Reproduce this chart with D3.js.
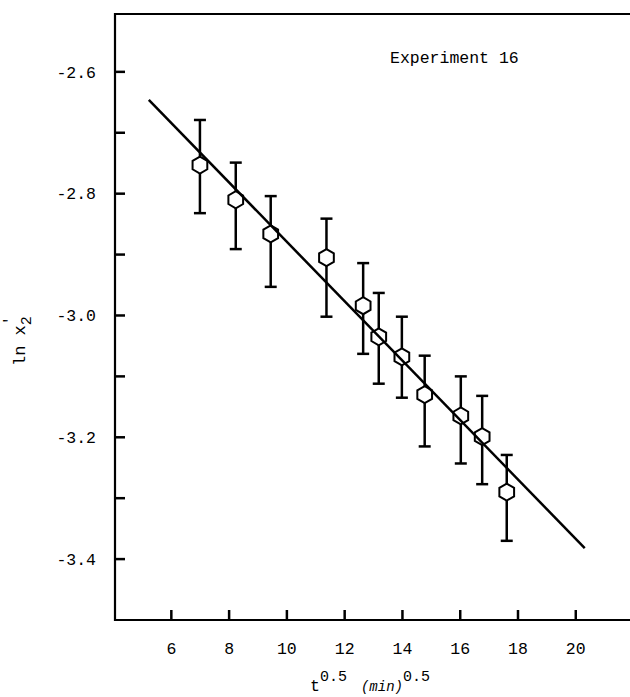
<!DOCTYPE html>
<html><head><meta charset="utf-8">
<script src="https://cdn.jsdelivr.net/npm/d3@7"></script>
<style>body{margin:0;background:#fff}</style>
</head><body>
<script>
// data
const xValues = [6.99, 8.23, 9.44, 11.37, 12.64, 13.18, 13.98, 14.77, 16.02, 16.76, 17.61];
const yValues = [-2.753, -2.810, -2.866, -2.905, -2.984, -3.035, -3.068, -3.130, -3.165, -3.199, -3.290];
const yLow    = [-2.832, -2.891, -2.953, -3.002, -3.063, -3.112, -3.135, -3.215, -3.243, -3.277, -3.370];
const yHigh   = [-2.679, -2.749, -2.804, -2.841, -2.914, -2.963, -3.002, -3.066, -3.100, -3.132, -3.229];
const fitX = [5.22, 20.31];
const fitY = [-2.646, -3.382];
const xTicks = [6, 8, 10, 12, 14, 16, 18, 20];
const yTickLabels = [-2.6, -2.8, -3.0, -3.2, -3.4];
const yTicks = [-2.6, -2.7, -2.8, -2.9, -3.0, -3.1, -3.2, -3.3, -3.4];
const titleText = "Experiment 16";

(function () {
const W = 630, H = 697;
const svg = d3.select("body").append("svg").attr("width", W).attr("height", H)
  .style("font-family", "'Liberation Mono', 'DejaVu Sans Mono', monospace");

const x = d3.scaleLinear().domain([4.05, 22.05]).range([115, 635]);
const y = d3.scaleLinear().domain([-2.505, -3.5]).range([14, 620]);

const pLeft = x(4.05), pTop = y(-2.505), pBottom = y(-3.5);

// frame: top, left, bottom
svg.append("path")
  .attr("d", `M${W},${pTop}H${pLeft}V${pBottom}H${W}`)
  .attr("fill", "none").attr("stroke", "#000").attr("stroke-width", 2.2);

// y ticks (inside)
svg.selectAll(".yt").data(yTicks).enter().append("line")
  .attr("x1", pLeft).attr("x2", pLeft + 10)
  .attr("y1", d => y(d)).attr("y2", d => y(d))
  .attr("stroke", "#000").attr("stroke-width", 2.5);

svg.selectAll(".yl").data(yTickLabels).enter().append("text")
  .attr("x", 96).attr("y", d => y(d)).attr("dy", "0.35em")
  .attr("text-anchor", "end").attr("font-size", 16.5)
  .text(d => d3.format(".1f")(d).replace("\u2212", "-"));

// x ticks (inside)
svg.selectAll(".xt").data(xTicks).enter().append("line")
  .attr("x1", d => x(d)).attr("x2", d => x(d))
  .attr("y1", pBottom).attr("y2", pBottom - 10)
  .attr("stroke", "#000").attr("stroke-width", 2.5);

svg.selectAll(".xl").data(xTicks).enter().append("text")
  .attr("x", d => x(d)).attr("y", 654)
  .attr("text-anchor", "middle").attr("font-size", 16.5)
  .text(d => d);

// x axis label
const xl = svg.append("text").attr("x", 310).attr("y", 691).attr("font-size", 16.5);
xl.append("tspan").text("t");
xl.append("tspan").attr("dy", -10).attr("font-size", 15).text("0.5");
xl.append("tspan").attr("dx", 14).attr("dy", 10).attr("font-size", 14).attr("font-style", "italic").text("(min)");
xl.append("tspan").attr("dy", -10).attr("font-size", 15).text("0.5");

// y axis label
const yl = svg.append("text").attr("transform", "translate(25,366) rotate(-90)").attr("font-size", 17);
yl.append("tspan").text("ln x");
yl.append("tspan").attr("dy", 6).attr("font-size", 15).text("2");
yl.append("tspan").attr("dx", -9).attr("dy", -17).attr("font-size", 15).text("'");

// title
svg.append("text").attr("x", 390).attr("y", 63).attr("font-size", 16.5).text(titleText);

const pts = xValues.map((v, i) => ({x: v, y: yValues[i], lo: yLow[i], hi: yHigh[i]}));

// error bars
const eb = svg.selectAll(".eb").data(pts).enter().append("g");
eb.append("line").attr("x1", d => x(d.x)).attr("x2", d => x(d.x))
  .attr("y1", d => y(d.hi)).attr("y2", d => y(d.lo))
  .attr("stroke", "#000").attr("stroke-width", 2.5);
eb.append("line").attr("x1", d => x(d.x) - 6).attr("x2", d => x(d.x) + 6)
  .attr("y1", d => y(d.hi)).attr("y2", d => y(d.hi))
  .attr("stroke", "#000").attr("stroke-width", 2.5);
eb.append("line").attr("x1", d => x(d.x) - 6).attr("x2", d => x(d.x) + 6)
  .attr("y1", d => y(d.lo)).attr("y2", d => y(d.lo))
  .attr("stroke", "#000").attr("stroke-width", 2.5);

// hexagon markers
const r = 8.5;
const hex = d3.range(6).map(k => {
  const a = Math.PI / 180 * (60 * k - 90);
  return [r * Math.cos(a), r * Math.sin(a)];
});
svg.selectAll(".hx").data(pts).enter().append("path")
  .attr("d", "M" + hex.map(p => p.join(",")).join("L") + "Z")
  .attr("transform", d => `translate(${x(d.x)},${y(d.y)})`)
  .attr("fill", "#fff").attr("stroke", "#000").attr("stroke-width", 2);

// fitted line
svg.append("path")
  .datum(fitX.map((v, i) => [v, fitY[i]]))
  .attr("d", d3.line().x(d => x(d[0])).y(d => y(d[1])))
  .attr("fill", "none").attr("stroke", "#000").attr("stroke-width", 2.5);
})();
</script>
</body></html>
